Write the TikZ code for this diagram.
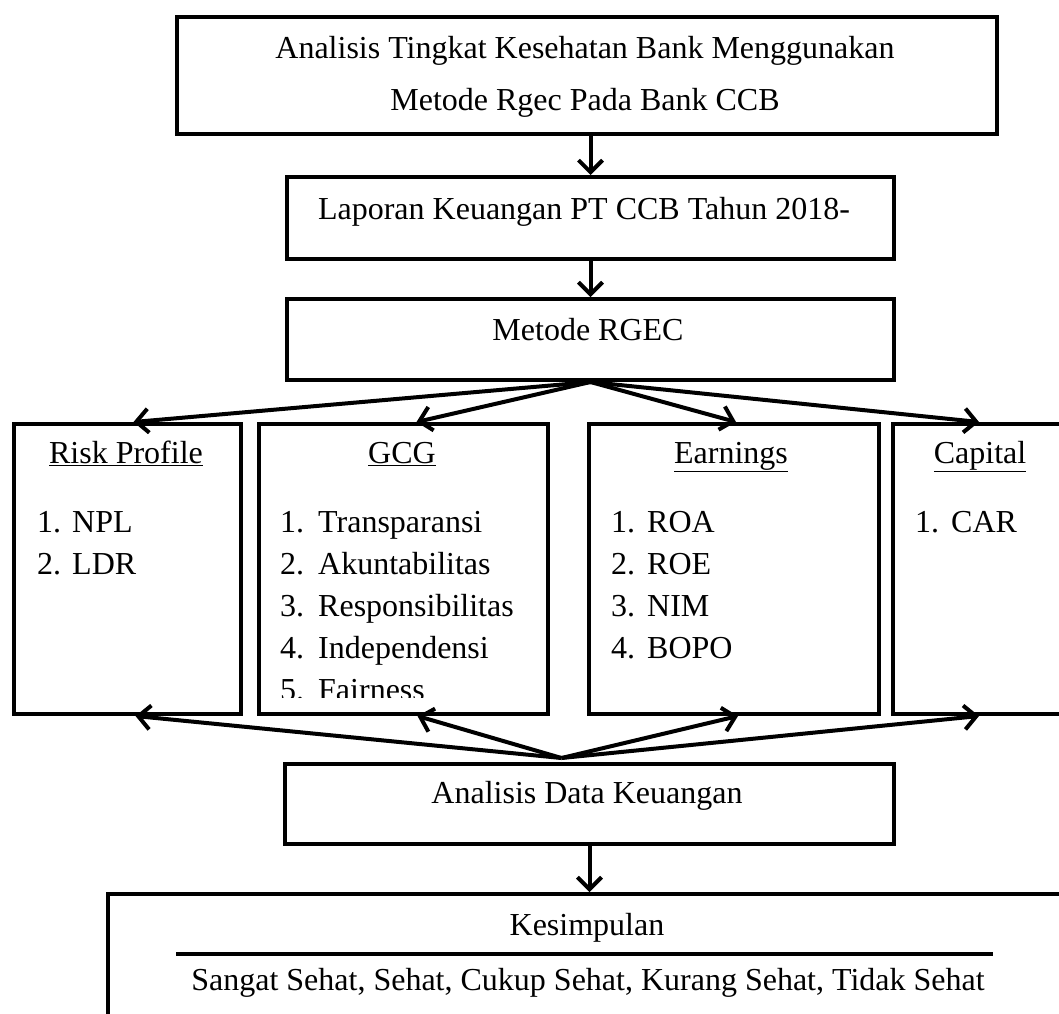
\documentclass[tikz,border=0pt]{standalone}
\usepackage{fontspec}
\setmainfont{Liberation Serif}
\usetikzlibrary{arrows.meta}

\tikzset{
  box/.style={draw, line width=4pt, inner sep=0pt, anchor=north west},
  txt/.style={font=\fontsize{32}{38}\selectfont, inner sep=0pt, anchor=base},
  item/.style={txt, anchor=base west},
  arr/.style={line width=4pt, -{Straight Barb[length=12pt,width=24pt,line width=4pt]}},
}

\begin{document}
\begin{tikzpicture}[x=1pt, y=-1pt]
    \useasboundingbox (0,0) rectangle (1059,1013);

    % Boxes
    \node[box, minimum width=820pt, minimum height=117pt] (judul) at (175,15) {};
    \node[box, minimum width=607pt, minimum height=82pt] (laporan) at (285,175) {};
    \node[box, minimum width=607pt, minimum height=81pt] (metode) at (285,297) {};
    \node[box, minimum width=227pt, minimum height=290pt] (risk) at (12,422) {};
    \node[box, minimum width=289pt, minimum height=290pt] (gcg) at (257,422) {};
    \node[box, minimum width=290pt, minimum height=290pt] (earn) at (587,422) {};
    \node[box, minimum width=172pt, minimum height=290pt] (capital) at (891,422) {};
    \node[box, minimum width=609pt, minimum height=80pt] (analisis) at (283,762) {};
    \node[box, minimum width=980pt, minimum height=150pt] (kesimpulan) at (106,892) {};

    % Texts
    \node[txt] (judul1) at (585,58) {Analisis Tingkat Kesehatan Bank Menggunakan};
    \node[txt] (judul2) at (585,110) {Metode Rgec Pada Bank CCB};
    \node[txt] (laporan-t) at (584,219) {Laporan Keuangan PT CCB Tahun 2018-};
    \node[txt] (metode-t) at (588,340) {Metode RGEC};

    % Columns
    \node[txt] (risk-t) at (126,463) {\underline{Risk Profile}};
    \node[txt] (gcg-t) at (402,463) {\underline{GCG}};
    \node[txt] (earn-t) at (731,463) {\underline{Earnings}};
    \node[txt] (capital-t) at (980,463) {\underline{Capital}};

    \foreach \t [count=\i] in {NPL,LDR} {
        \node[item] (risk-n\i) at (37,{532+42*(\i-1)}) {\i.};
        \node[item] (risk-\i) at (72,{532+42*(\i-1)}) {\t};
    }
    \begin{scope}
        \clip (257,480) rectangle (546,697);
        \foreach \t [count=\i] in {Transparansi,Akuntabilitas,Responsibilitas,Independensi,Fairness} {
            \node[item] (gcg-n\i) at (280,{532+42*(\i-1)}) {\i.};
            \node[item] (gcg-\i) at (318,{532+42*(\i-1)}) {\t};
        }
    \end{scope}
    \foreach \t [count=\i] in {ROA,ROE,NIM,BOPO} {
        \node[item] (earn-n\i) at (611,{532+42*(\i-1)}) {\i.};
        \node[item] (earn-\i) at (647,{532+42*(\i-1)}) {\t};
    }
    \node[item] (capital-n1) at (915,532) {1.};
    \node[item] (capital-1) at (951,532) {CAR};

    \node[txt] (analisis-t) at (587,803) {Analisis Data Keuangan};
    \node[txt] (kesimpulan-t) at (587,935) {Kesimpulan};
    \draw[line width=4.5pt] (176,954) -- (993,954);
    \node[txt] (hasil) at (588,990) {Sangat Sehat, Sehat, Cukup Sehat, Kurang Sehat, Tidak Sehat};

    % Arrows
    \draw[arr] (judul.south -| laporan.north) -- (laporan.north);
    \draw[arr] (laporan) -- (metode);
    \foreach \b/\s in {risk/6,gcg/13,earn/2,capital/0}
        \draw[arr] (metode.south) -- ([xshift=\s pt]\b.north);
    \coordinate (fan) at ([xshift=-28pt, yshift=4pt]analisis.north);
    \foreach \b/\s in {risk/8,gcg/14,earn/4,capital/0}
        \draw[arr] (fan) -- ([xshift=\s pt]\b.south);
    \draw[arr] (analisis.south) -- (analisis.south |- kesimpulan.north);
\end{tikzpicture}
\end{document}
